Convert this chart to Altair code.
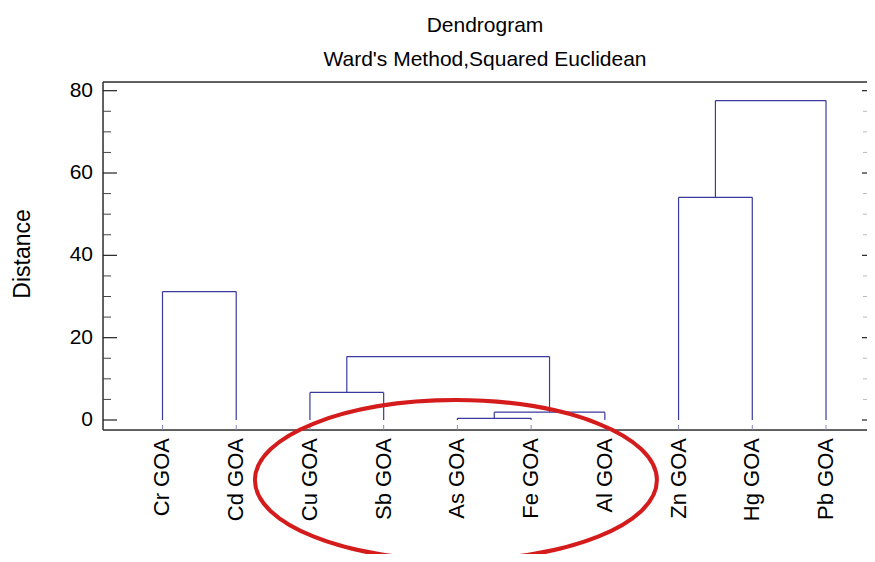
import altair as alt
import pandas as pd

# ---------------- data ----------------
leaves = ["Cr GOA", "Cd GOA", "Cu GOA", "Sb GOA", "As GOA",
          "Fe GOA", "Al GOA", "Zn GOA", "Hg GOA", "Pb GOA"]
# merges: node ids 0..9 are leaves, merge k creates node 10+k
merge_left = [0, 2, 4, 12, 11, 7, 15]
merge_right = [1, 3, 5, 6, 13, 8, 9]
merge_height = [31.2, 6.7, 0.4, 1.9, 15.4, 54.1, 77.6]

y_major = [0, 20, 40, 60, 80]
y_minor = [5, 10, 15, 25, 30, 35, 45, 50, 55, 65, 70, 75]

# annotation ellipse (centre in data units)
ellipse_center = {"x": 3.98, "y": -14.6}

title_text = "Dendrogram"
subtitle_text = "Ward's Method,Squared Euclidean"
y_title = "Distance"

# ---------------- build segments ----------------
node_x = {i: float(i) for i in range(len(leaves))}
node_h = {i: 0.0 for i in range(len(leaves))}
rows = []
for k, (a, b, h) in enumerate(zip(merge_left, merge_right, merge_height)):
    nid = len(leaves) + k
    rows.append({"x": node_x[a], "x2": node_x[a], "y": node_h[a], "y2": h})
    rows.append({"x": node_x[b], "x2": node_x[b], "y": node_h[b], "y2": h})
    rows.append({"x": node_x[a], "x2": node_x[b], "y": h, "y2": h})
    node_x[nid] = (node_x[a] + node_x[b]) / 2
    node_h[nid] = h
seg_df = pd.DataFrame(rows)

W, H = 764, 348
FONT = "Arial, Liberation Sans"
LINE = "#3a3a9c"

xs = alt.Scale(domain=[-0.807, 9.556], nice=False, zero=False)
ys = alt.Scale(domain=[-2.43, 82.11], nice=False, zero=False)

dendro = alt.Chart(seg_df).mark_rule(color=LINE, strokeWidth=1.2).encode(
    x=alt.X("x:Q", scale=xs, axis=None),
    x2="x2:Q",
    y=alt.Y("y:Q", scale=ys, axis=None),
    y2="y2:Q",
)

one = pd.DataFrame({"k": [0]})
frame_color = "#333333"
frame_left = alt.Chart(one).mark_rule(color=frame_color, strokeWidth=1.5).encode(
    x=alt.value(0), y=alt.value(0), y2=alt.value(H))
frame_top = alt.Chart(one).mark_rule(color=frame_color, strokeWidth=1.5).encode(
    x=alt.value(0), x2=alt.value(W), y=alt.value(0))
frame_bottom = alt.Chart(one).mark_rule(color=frame_color, strokeWidth=1.5).encode(
    x=alt.value(0), x2=alt.value(W), y=alt.value(H))

major_df = pd.DataFrame({"v": y_major})
minor_df = pd.DataFrame({"v": y_minor})
leaf_df = pd.DataFrame({"i": list(range(len(leaves))), "name": leaves})

tick_major_l = alt.Chart(major_df).mark_rule(color="#222222", strokeWidth=1.2).encode(
    y=alt.Y("v:Q", scale=ys, axis=None), x=alt.value(0), x2=alt.value(14))
tick_minor_l = alt.Chart(minor_df).mark_rule(color="#444444", strokeWidth=1).encode(
    y=alt.Y("v:Q", scale=ys, axis=None), x=alt.value(0), x2=alt.value(8))
tick_major_r = alt.Chart(major_df).mark_rule(color="#222222", strokeWidth=1.2).encode(
    y=alt.Y("v:Q", scale=ys, axis=None), x=alt.value(W - 5), x2=alt.value(W))
tick_minor_r = alt.Chart(minor_df).mark_rule(color="#bbbbbb", strokeWidth=1).encode(
    y=alt.Y("v:Q", scale=ys, axis=None), x=alt.value(W - 4), x2=alt.value(W))
tick_bottom = alt.Chart(leaf_df).mark_rule(color="#8888bb", strokeWidth=1).encode(
    x=alt.X("i:Q", scale=xs, axis=None), y=alt.value(H - 5), y2=alt.value(H))

# axis labels as text marks positioned through the scales
y_labels = alt.Chart(major_df).mark_text(
    align="right", baseline="middle", fontSize=21, font=FONT, color="black",
    dx=-10).encode(
    y=alt.Y("v:Q", scale=ys, axis=None), x=alt.value(0), text=alt.Text("v:Q", format="d"))
x_labels = alt.Chart(leaf_df).mark_text(
    align="right", baseline="middle", angle=270, fontSize=22, font=FONT,
    color="black").encode(
    x=alt.X("i:Q", scale=xs, axis=None), y=alt.value(H + 8), text="name:N")
title_df = pd.DataFrame({"t": [y_title]})
y_title_mark = alt.Chart(title_df).mark_text(
    align="center", baseline="middle", angle=270, fontSize=23, font=FONT,
    color="black").encode(x=alt.value(-80), y=alt.value(172), text="t:N")

# ellipse annotation as a custom symbol (cubic bezier ellipse, ry/rx ratio)
rx_px, ry_px = 201.0, 80.0
r = ry_px / rx_px
k = 0.5523
path = (f"M -1 0 C -1 {-k*r:.4f} {-k:.4f} {-r:.4f} 0 {-r:.4f} "
        f"C {k:.4f} {-r:.4f} 1 {-k*r:.4f} 1 0 "
        f"C 1 {k*r:.4f} {k:.4f} {r:.4f} 0 {r:.4f} "
        f"C {-k:.4f} {r:.4f} -1 {k*r:.4f} -1 0 Z")
ell_df = pd.DataFrame([ellipse_center])
ellipse = alt.Chart(ell_df).mark_point(
    shape=path, size=(2 * rx_px) ** 2, filled=False, stroke="#d41c1c",
    strokeWidth=4, opacity=1, strokeOpacity=1, clip=False).encode(
    x=alt.X("x:Q", scale=xs, axis=None),
    y=alt.Y("y:Q", scale=ys, axis=None))

chart = alt.layer(
    frame_left, frame_top, frame_bottom,
    tick_major_l, tick_minor_l, tick_major_r, tick_minor_r, tick_bottom,
    dendro, y_labels, x_labels, y_title_mark, ellipse,
).properties(
    width=W, height=H,
    autosize=alt.AutoSizeParams(type="none"),
    padding={"left": 95, "top": 74, "right": 0, "bottom": 124},
    title=alt.TitleParams(
        text=title_text, subtitle=subtitle_text,
        fontSize=21, subtitleFontSize=21, font=FONT, subtitleFont=FONT,
        fontWeight="normal", color="black", subtitleColor="black",
        anchor="middle", offset=10, subtitlePadding=13),
).configure_view(stroke=None).configure(background="white")

chart.save("out.html", embed_options={"renderer": "svg", "actions": False})
